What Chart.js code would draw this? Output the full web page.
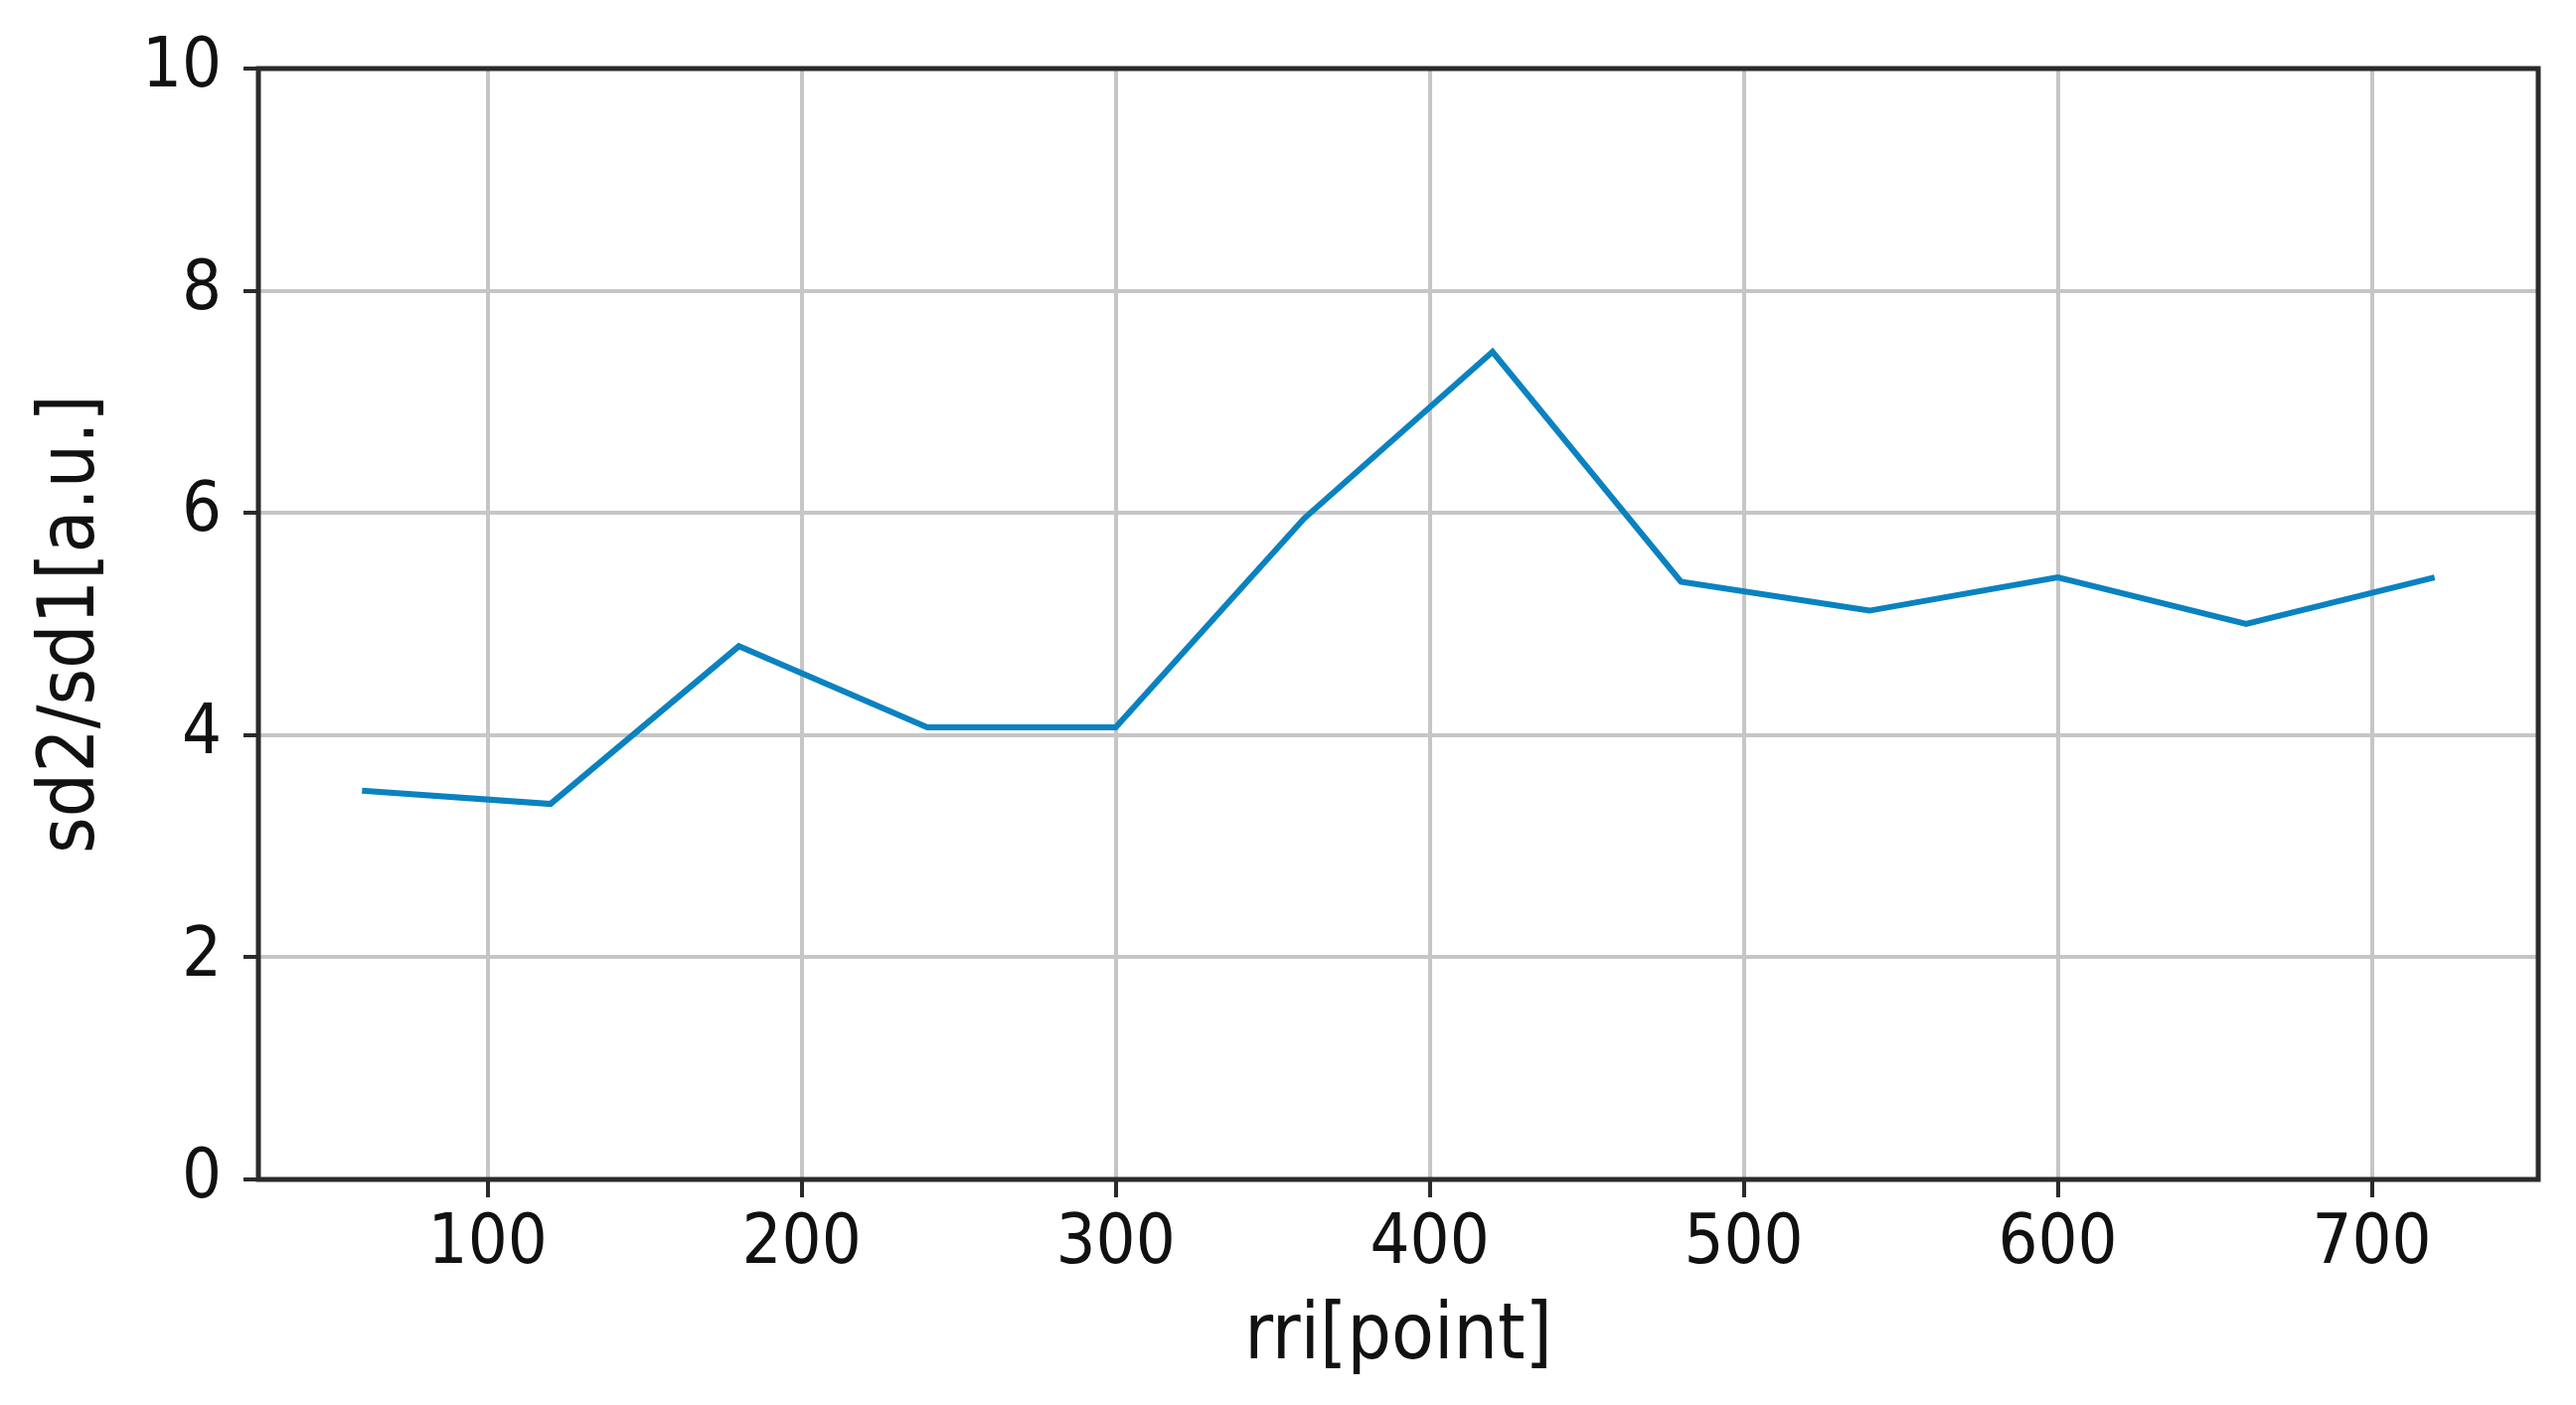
<!DOCTYPE html>
<html>
<head>
<meta charset="utf-8">
<script src="https://cdn.jsdelivr.net/npm/chart.js@4/dist/chart.umd.min.js"></script>
<style>
    html, body { margin: 0; padding: 0; background: #fff; }
    #wrap { width: 2592px; height: 1414px; }
</style>
</head>
<body>
<div id="wrap"><canvas id="chart" width="2592" height="1414"></canvas></div>
<script>
// data
const rriPoints = [60, 120, 180, 240, 300, 360, 420, 480, 540, 600, 660, 720];
const sdRatio = [3.5, 3.38, 4.8, 4.07, 4.07, 5.95, 7.45, 5.38, 5.12, 5.42, 5.0, 5.42];
const xTicks = [100, 200, 300, 400, 500, 600, 700];
const yTicks = [0, 2, 4, 6, 8, 10];

const FONT = "'DejaVu Sans Condensed', 'DejaVu Sans', sans-serif";

// draw the closed frame around the plot area
const frameBox = {
    id: 'frameBox',
    afterDraw(chart) {
        const a = chart.chartArea;
        const ctx = chart.ctx;
        ctx.save();
        ctx.strokeStyle = '#2b2b2b';
        ctx.lineWidth = 5;
        ctx.strokeRect(a.left, a.top, a.right - a.left, a.bottom - a.top);
        ctx.restore();
    }
};

const ctx = document.getElementById('chart').getContext('2d');
new Chart(ctx, {
    type: 'line',
    data: {
        datasets: [{
            data: rriPoints.map((x, i) => ({ x: x, y: sdRatio[i] })),
            borderColor: '#0a82c0',
            borderWidth: 6,
            pointRadius: 0,
            tension: 0,
            fill: false
        }]
    },
    options: {
        responsive: false,
        animation: false,
        layout: { padding: { top: 69, right: 38, left: 0, bottom: 0 } },
        plugins: { legend: { display: false }, tooltip: { enabled: false } },
        scales: {
            x: {
                type: 'linear',
                min: 27,
                max: 753,
                afterBuildTicks: s => { s.ticks = xTicks.map(v => ({ value: v })); },
                afterFit: s => { s.height = 227; },
                grid: { color: '#c6c6c6', lineWidth: 4, tickLength: 18, tickColor: '#2b2b2b', tickWidth: 4 },
                border: { display: false },
                ticks: { color: '#111', font: { family: FONT, size: 70 }, padding: 6, maxRotation: 0 },
                title: { display: true, text: 'rri[point]', color: '#111', font: { family: FONT, size: 78 }, padding: { top: 0, bottom: 20 } }
            },
            y: {
                min: 0,
                max: 10,
                afterBuildTicks: s => { s.ticks = yTicks.map(v => ({ value: v })); },
                afterFit: s => { s.width = 260; },
                grid: { color: '#c6c6c6', lineWidth: 4, tickLength: 15, tickColor: '#2b2b2b', tickWidth: 4 },
                border: { display: false },
                ticks: { color: '#111', font: { family: FONT, size: 70 }, padding: 22 },
                title: { display: true, text: 'sd2/sd1[a.u.]', color: '#111', font: { family: FONT, size: 78 }, padding: { top: 27, bottom: 0 } }
            }
        }
    },
    plugins: [frameBox]
});
</script>
</body>
</html>
